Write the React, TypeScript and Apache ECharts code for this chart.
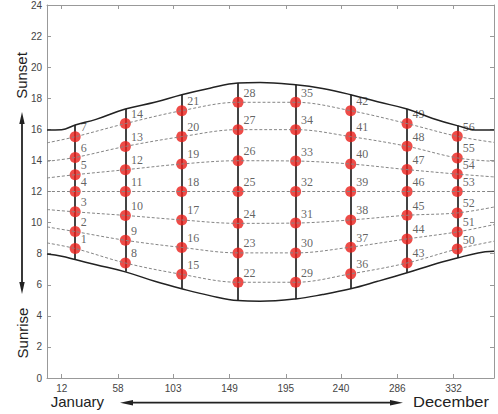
import React, { useEffect, useRef } from "react";
import * as echarts from "echarts";

// x tick labels (day of year)
const xTicks = [12, 58, 103, 149, 195, 240, 286, 332];

// sunrise / sunset boundary curves (hour of day)
const curveDays = [0, 12, 23, 40, 64, 88, 110, 133, 156, 174, 203, 225, 248, 270, 294, 315, 335, 352, 365];
const sunriseHours = [7.98, 7.84, 7.62, 7.29, 6.83, 6.22, 5.74, 5.3, 4.98, 4.94, 5.09, 5.37, 5.74, 6.22, 6.77, 7.29, 7.72, 8.05, 8.15];
const sunsetHours = [15.95, 15.97, 16.28, 16.64, 17.31, 17.74, 18.23, 18.65, 18.98, 19.02, 18.87, 18.63, 18.23, 17.77, 17.31, 16.7, 16.24, 15.95, 15.95];

// sampling days (vertical lines)
const columnDays = [23, 64, 110, 156, 203, 248, 294, 335];
const columnRise = [7.62, 6.83, 5.74, 4.98, 5.09, 5.74, 6.77, 7.72];
const columnSet = [16.28, 17.31, 18.23, 18.98, 18.87, 18.23, 17.31, 16.24];

// sample points per column (levels 1..7)
const col1Hours = [8.33, 9.42, 10.69, 12, 13.08, 14.19, 15.52];
const col2Hours = [7.4, 8.86, 10.46, 12, 13.4, 14.9, 16.37];
const col3Hours = [6.67, 8.4, 10.17, 12, 13.77, 15.53, 17.2];
const col4Hours = [6.16, 8.05, 9.95, 12, 13.98, 15.98, 17.74];
const col5Hours = [6.16, 8.05, 9.97, 12, 13.96, 15.98, 17.74];
const col6Hours = [6.7, 8.42, 10.17, 12, 13.77, 15.53, 17.2];
const col7Hours = [7.4, 8.95, 10.47, 12, 13.41, 14.91, 16.37];
const col8Hours = [8.3, 9.4, 10.62, 12, 13.12, 14.16, 15.55];
const columnHours = [col1Hours, col2Hours, col3Hours, col4Hours, col5Hours, col6Hours, col7Hours, col8Hours];

// dotted guide curves at the plot's ends (day 0 and day 365)
const leftEnds = [8.69, 9.72, 10.84, 12, 12.87, 13.94, 15.13];
const rightEnds = [8.8, 9.87, 11.0, 12, 12.94, 13.94, 15.16];

const FONT = '"Liberation Sans", Arial, sans-serif';
const AX = "#999";

function buildOption() {
  const levelSeries = leftEnds.map((l, k) => ({
    type: "line",
    data: [[0, l], ...columnDays.map((d, i) => [d, columnHours[i][k]]), [365, rightEnds[k]]],
    smooth: 0.35,
    showSymbol: false,
    symbol: "none",
    silent: true,
    lineStyle: { color: "#858585", width: 1, type: [3, 2] },
  }));

  const points: any[] = [];
  columnDays.forEach((d, i) => {
    columnHours[i].forEach((h, k) => {
      points.push([d, h, i * 7 + k + 1]);
    });
  });

  const tickStyle = () => ({ show: true, inside: true, length: 4, lineStyle: { color: AX } });
  const lineStyle = () => ({ show: true, onZero: false, lineStyle: { color: AX, width: 1 } });

  return {
    animation: false,
    backgroundColor: "#fff",
    textStyle: { fontFamily: FONT },
    grid: { left: 47, right: 4, top: 5, bottom: 36 },
    xAxis: [
      {
        type: "value",
        min: 0,
        max: 365,
        position: "bottom",
        axisLine: lineStyle(),
        axisTick: { ...tickStyle(), customValues: xTicks },
        axisLabel: { customValues: xTicks, fontSize: 10, color: "#444", margin: 5, fontFamily: FONT },
        splitLine: { show: false },
      },
      {
        type: "value",
        min: 0,
        max: 365,
        position: "top",
        axisLine: lineStyle(),
        axisTick: { ...tickStyle(), customValues: xTicks },
        axisLabel: { show: false },
        splitLine: { show: false },
      },
    ],
    yAxis: [
      {
        type: "value",
        min: 0,
        max: 24,
        interval: 2,
        position: "left",
        axisLine: lineStyle(),
        axisTick: tickStyle(),
        axisLabel: { fontSize: 10, color: "#444", margin: 5, fontFamily: FONT },
        splitLine: { show: false },
      },
      {
        type: "value",
        min: 0,
        max: 24,
        interval: 2,
        position: "right",
        axisLine: lineStyle(),
        axisTick: tickStyle(),
        axisLabel: { show: false },
        splitLine: { show: false },
      },
    ],
    series: [
      ...levelSeries,
      {
        type: "line",
        data: curveDays.map((d, i) => [d, sunriseHours[i]]),
        smooth: 0.4,
        showSymbol: false,
        symbol: "none",
        silent: true,
        lineStyle: { color: "#222", width: 1.5 },
      },
      {
        type: "line",
        data: curveDays.map((d, i) => [d, sunsetHours[i]]),
        smooth: 0.4,
        showSymbol: false,
        symbol: "none",
        silent: true,
        lineStyle: { color: "#222", width: 1.5 },
      },
      {
        type: "lines",
        coordinateSystem: "cartesian2d",
        silent: true,
        data: columnDays.map((d, i) => ({ coords: [[d, columnRise[i]], [d, columnSet[i]]] })),
        lineStyle: { color: "#444", width: 2, opacity: 1 },
      },
      {
        type: "scatter",
        data: points,
        symbolSize: 11,
        itemStyle: { color: "#ea1f1a" },
        label: {
          show: true,
          formatter: (p: any) => String(p.value[2]),
          position: "right",
          distance: 0,
          offset: [0, -9.5],
          fontFamily: '"Liberation Serif", "Times New Roman", serif',
          fontSize: 12,
          color: "#3a3a3a",
        },
      },
    ],
    graphic: [
      // vertical double arrow
      { type: "line", shape: { x1: 22, y1: 120, x2: 22, y2: 286 }, style: { stroke: "#222", lineWidth: 1.8 } },
      { type: "polygon", shape: { points: [[22, 112], [19.3, 124], [24.7, 124]] }, style: { fill: "#222" } },
      { type: "polygon", shape: { points: [[22, 294], [19.3, 282], [24.7, 282]] }, style: { fill: "#222" } },
      {
        type: "text",
        x: 21,
        y: 75.5,
        rotation: Math.PI / 2,
        style: { text: "Sunset", font: `15px ${FONT}`, fill: "#222", align: "center", verticalAlign: "middle" },
      },
      {
        type: "text",
        x: 22,
        y: 333,
        rotation: Math.PI / 2,
        style: { text: "Sunrise", font: `15px ${FONT}`, fill: "#222", align: "center", verticalAlign: "middle" },
      },
      // horizontal double arrow
      { type: "line", shape: { x1: 128, y1: 402.7, x2: 395, y2: 402.7 }, style: { stroke: "#222", lineWidth: 1.8 } },
      { type: "polygon", shape: { points: [[120, 402.7], [133, 400], [133, 405.4]] }, style: { fill: "#222" } },
      { type: "polygon", shape: { points: [[403, 402.7], [390, 400], [390, 405.4]] }, style: { fill: "#222" } },
      {
        type: "text",
        x: 50.7,
        y: 401.7,
        style: { text: "January", font: `15px ${FONT}`, fill: "#222", align: "left", verticalAlign: "middle" },
      },
      {
        type: "text",
        x: 413,
        y: 401.7,
        scaleX: 1.1,
        style: { text: "December", font: `15px ${FONT}`, fill: "#222", align: "left", verticalAlign: "middle" },
      },
    ],
  };
}

export default function App() {
  const ref = useRef<HTMLDivElement>(null);
  useEffect(() => {
    if (!ref.current) return;
    const chart = echarts.init(ref.current, null, { renderer: "svg" });
    chart.setOption(buildOption() as any);
    return () => chart.dispose();
  }, []);
  return (
    <div
      ref={ref}
      style={{ position: "fixed", left: 0, top: 0, width: 498, height: 414, background: "#fff" }}
    />
  );
}
